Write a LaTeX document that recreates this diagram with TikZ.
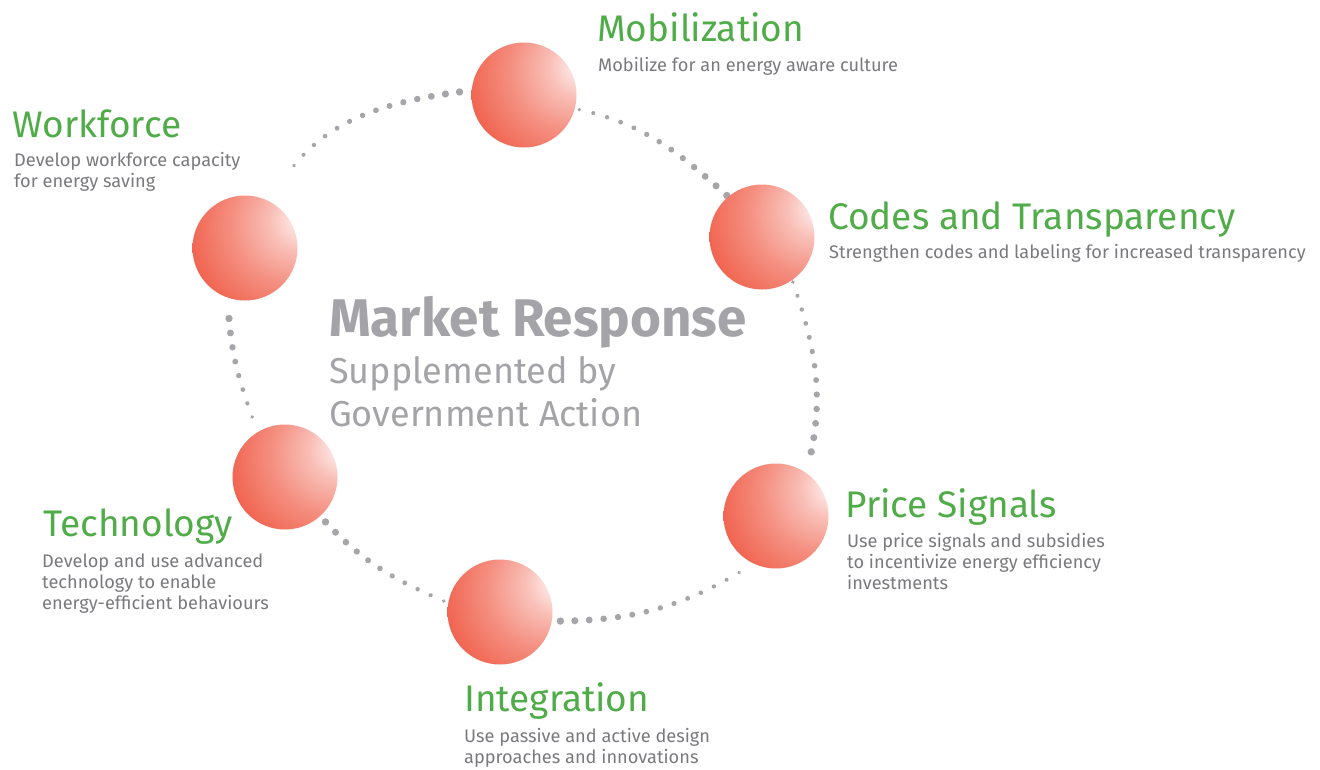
\documentclass[tikz,border=0pt]{standalone}
\usepackage{fontspec}
\setmainfont{Fira Sans}
\usetikzlibrary{decorations.markings,backgrounds}
\definecolor{ballred}{RGB}{239,86,64}
\definecolor{headgreen}{RGB}{80,172,72}
\definecolor{notegray}{RGB}{122,122,126}
\definecolor{centergray}{RGB}{164,164,168}
\definecolor{dotgray}{RGB}{166,166,170}
\pgfdeclareradialshading{redball}{\pgfpoint{30bp}{15bp}}{%
  color(0bp)=(white);
  color(3bp)=(white!92!ballred);
  color(14bp)=(ballred!38!white);
  color(28bp)=(ballred!66!white);
  color(44bp)=(ballred!92!white);
  color(58bp)=(ballred);
  color(100bp)=(ballred)}
\tikzset{
  sphere/.style={circle,inner sep=0pt,minimum size=105pt,shading=redball},
  head/.style={anchor=base west,inner sep=0pt,text=headgreen,font=\fontsize{37}{44}\selectfont},
  note/.style={anchor=base west,inner sep=0pt,align=left,text=notegray,font=\fontsize{18.2}{21}\selectfont},
  dotarc/.style n args={3}{decorate,decoration={markings,
    mark=between positions #1 and #2+0.001 step {(#2-#1)/(#3-1)} with {%
      \pgfmathsetmacro\dotrad{1.9+1.8*(\pgfkeysvalueof{/pgf/decoration/mark info/sequence number}-1)/(#3-1)}%
      \fill[dotgray] (0pt,0pt) circle (\dotrad pt);}}}
}
\begin{document}
\begin{tikzpicture}[x=1pt,y=1pt]
  \useasboundingbox (0,0) rectangle (1320,-769);
  \node[sphere] (mob) at (524,-95) {};
  \node[sphere] (codes) at (762,-237) {};
  \node[sphere] (price) at (776,-516) {};
  \node[sphere] (integ) at (500,-612) {};
  \node[sphere] (tech) at (285,-477) {};
  \node[sphere] (work) at (245,-248) {};
  \begin{pgfonlayer}{background}
    \fill[white] (0,0) rectangle (1320,-769);
    \path[dotarc={0.18}{0.95}{14}] (work.60) to[out=65,in=187] (mob.175);
    \path[dotarc={0.025}{0.99}{13}] (mob.-15) to[out=-12,in=138] (codes.130);
    \path[dotarc={0.01}{0.89}{13}] (codes.-55) to[out=-71,in=75] (price.55);
    \path[dotarc={0.08}{0.96}{14}] (price.-115) to[out=-148,in=0] (integ.-10);
    \path[dotarc={0.03}{0.95}{11}] (integ.170) to[out=157,in=-48] (tech.-48);
    \path[dotarc={0.115}{0.85}{8}] (tech.121) to[out=111,in=-88] (work.-109);
  \end{pgfonlayer}
  \node[head] (mobhead) at (597,-41) {Mobilization};
  \node[note] (mobnote) at (598,-71) {Mobilize for an energy aware culture};
  \node[head] (workhead) at (12,-137) {Workforce};
  \node[note] (worknote) at (14,-187) {Develop workforce capacity\\for energy saving};
  \node[head] (codeshead) at (828,-229) {Codes and Transparency};
  \node[note] (codesnote) at (829,-258) {Strengthen codes and labeling for increased transparency};
  \node[head] (pricehead) at (845,-517) {Price Signals};
  \node[note] (pricenote) at (847,-589) {Use price signals and subsidies\\to incentivize energy efficiency\\investments};
  \node[head] (integhead) at (464,-711) {Integration};
  \node[note] (integnote) at (464,-763) {Use passive and active design\\approaches and innovations};
  \node[head] (techhead) at (43,-536) {Technology};
  \node[note] (technote) at (42,-609) {Develop and use advanced\\technology to enable\\energy-efficient behaviours};
  \node[anchor=base west,inner sep=0pt,text=centergray,font=\bfseries\fontsize{53}{58}\selectfont] (market) at (329,-336) {Market Response};
  \node[anchor=base west,inner sep=0pt,align=left,text=centergray,font=\fontsize{36}{43}\selectfont] (govt) at (329,-426) {Supplemented by\\Government Action};
\end{tikzpicture}
\end{document}
